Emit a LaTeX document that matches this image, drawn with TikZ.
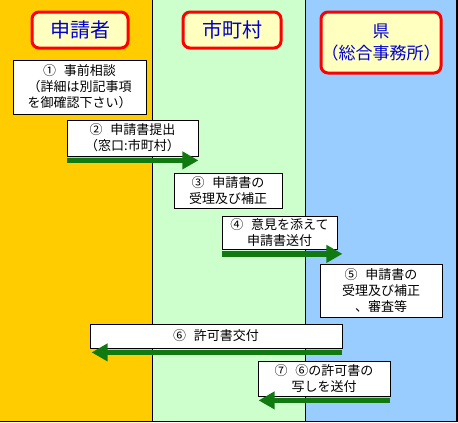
\documentclass[tikz,border=0pt]{standalone}
\usepackage{fontspec}
\newfontfamily\jp{Noto Sans CJK JP}
\usetikzlibrary{arrows.meta}
\definecolor{colY}{HTML}{FFCC00}
\definecolor{colG}{HTML}{CCFFCC}
\definecolor{colB}{HTML}{99CCFF}
\definecolor{hdrfill}{HTML}{FFFFC0}
\definecolor{hdrred}{HTML}{FF0000}
\definecolor{hdrblue}{HTML}{0000CC}
\definecolor{arrgreen}{HTML}{107A10}
\tikzset{
  hdr/.style={draw=hdrred, line width=3pt, rounded corners=7pt, fill=hdrfill,
    text=hdrblue, align=center, inner sep=0pt},
  stepbox/.style={draw=black, line width=0.8pt, fill=white, align=center, inner sep=0pt,
    font=\jp\fontsize{13}{16}\selectfont},
  garrow/.style={draw=arrgreen, line width=5.5pt, -{Triangle[length=16pt,width=17pt]}},
}
\newcommand{\gap}{\hspace{0.6em}}
\begin{document}
\begin{tikzpicture}[x=1pt,y=-1pt]
\useasboundingbox (0,0) rectangle (458,423);
% columns
\fill[colY] (0,0) rectangle (152,421);
\fill[colG] (152,0) rectangle (305,421);
\fill[colB] (305,0) rectangle (457,421);
\draw[line width=1pt] (152,0) -- (152,421);
\draw[line width=1pt] (305,0) -- (305,421);
\draw[line width=1.2pt] (0,421.5) -- (457,421.5) -- (457,0);
% headers
\node[hdr, minimum width=96pt, minimum height=36pt, font=\jp\fontsize{20}{22}\selectfont] (h1) at (80,30) {申請者};
\node[hdr, minimum width=98pt, minimum height=36pt, font=\jp\fontsize{20}{22}\selectfont] (h2) at (232,30) {市町村};
\node[hdr, minimum width=120pt, minimum height=61pt, font=\jp\fontsize{17}{22}\selectfont] (h3) at (381,42.5) {県\\（総合事務所）};
% step boxes
\node[stepbox, minimum width=133pt, minimum height=54pt] (b1) at (79.5,87) {①\gap 事前相談\\（詳細は別記事項\\を御確認下さい）};
\node[stepbox, minimum width=131pt, minimum height=36pt] (b2) at (132.5,138) {②\gap 申請書提出\\（窓口:市町村）};
\node[stepbox, minimum width=108pt, minimum height=35pt] (b3) at (228,190.5) {③\gap 申請書の\\受理及び補正};
\node[stepbox, minimum width=115pt, minimum height=33pt] (b4) at (279.5,232.5) {④\gap 意見を添えて\\申請書送付};
\node[stepbox, minimum width=122pt, minimum height=53pt] (b5) at (381,290.5) {⑤\gap 申請書の\\受理及び補正\\、審査等};
\node[stepbox, minimum width=252pt, minimum height=24pt] (b6) at (216,336) {⑥\gap 許可書交付};
\node[stepbox, minimum width=132pt, minimum height=35pt] (b7) at (324,378.5) {⑦\gap ⑥の許可書の\\写しを送付};
% arrows
\draw[garrow] ([yshift=-4pt]b2.south west) -- ([yshift=-4pt]b2.south east);
\draw[garrow] ([yshift=-4.5pt]b4.south west) -- ([yshift=-4.5pt,xshift=5pt]b4.south east);
\draw[garrow] ([yshift=-4pt]b6.south east) -- ([yshift=-4pt,xshift=2pt]b6.south west);
\draw[garrow] ([yshift=-4pt]b7.south east) -- ([yshift=-4pt,xshift=1pt]b7.south west);
\end{tikzpicture}
\end{document}
